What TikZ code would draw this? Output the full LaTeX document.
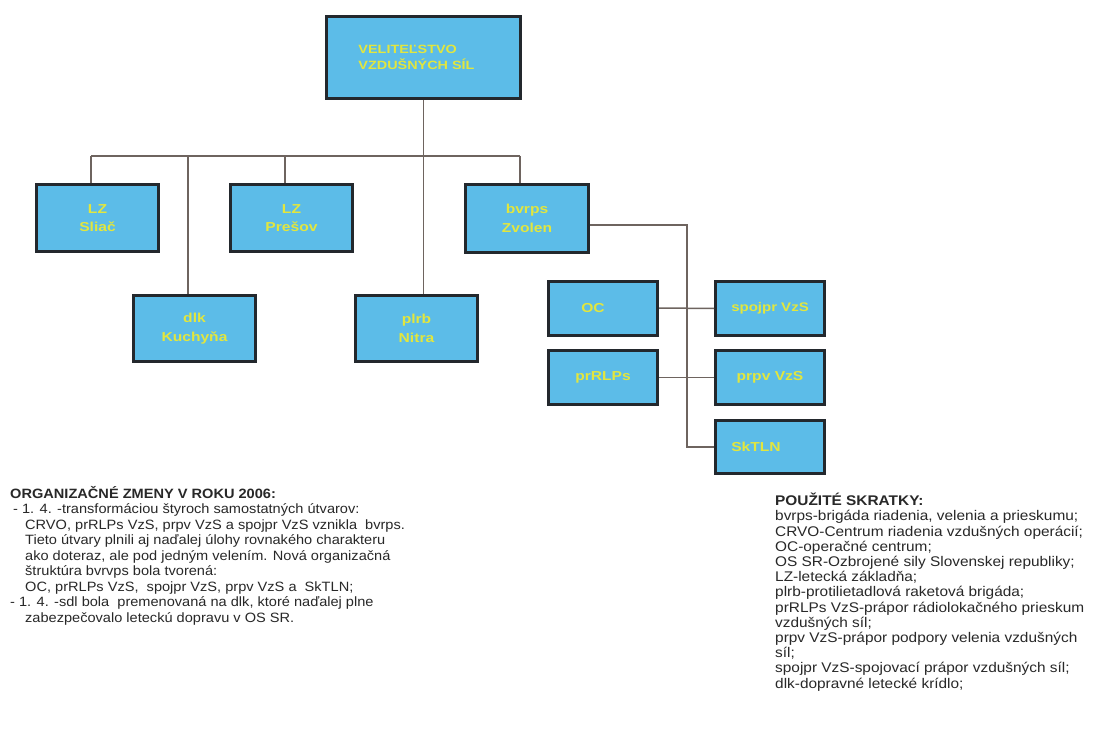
\documentclass[tikz,border=0pt]{standalone}
\usepackage{fontspec}
\setmainfont{Liberation Sans}
\newfontfamily\lftext[FakeStretch=1.08]{Liberation Sans}
\newfontfamily\rgtext[FakeStretch=1.1]{Liberation Sans}
\newfontfamily\bxfont[FakeStretch=1.2]{Liberation Sans}
\definecolor{boxfill}{RGB}{92,188,232}
\definecolor{boxedge}{RGB}{35,40,45}
\definecolor{boxtext}{RGB}{226,230,62}
\definecolor{wire}{RGB}{110,100,95}
\definecolor{bodytext}{RGB}{40,40,40}
\begin{document}
\begin{tikzpicture}[x=1pt,y=-1pt,
  orgbox/.style={draw=boxedge, line width=3pt, fill=boxfill, text=boxtext,
    font={\bxfont\bfseries\fontsize{13}{18.5}\selectfont}, align=center,
    inner sep=0pt, minimum width=122pt, minimum height=67pt},
  smallbox/.style={orgbox, minimum width=109pt, minimum height=54pt},
  conn/.style={draw=wire, line width=1.5pt},
  notes/.style={anchor=north west, inner sep=0pt, align=left, text=bodytext}]
\useasboundingbox (0,0) rectangle (1098,738);
\fill[white] (0,0) rectangle (1098,738);

% boxes
\node[orgbox, minimum width=194pt, minimum height=82pt, align=left,
  font={\bxfont\bfseries\fontsize{12}{16}\selectfont}] (vel) at (423.5,57.5)
  {VELITEĽSTVO\\VZDUŠNÝCH SÍL\hspace*{14pt}};
\node[orgbox] (sliac)  at (97.5,218)  {LZ\\Sliač};
\node[orgbox] (presov) at (291.5,218) {LZ\\Prešov};
\node[orgbox, minimum width=123pt, minimum height=68pt] (bvrps) at (527,218.5) {bvrps\\Zvolen};
\node[orgbox, minimum height=66pt] (dlk)  at (194.5,328.5) {dlk\\Kuchyňa};
\node[orgbox, minimum height=66pt] (plrb) at (416.5,328.5) {plrb\\Nitra};
\node[smallbox] (oc)     at (603,308)   {OC\hspace*{20pt}};
\node[smallbox, font={\bxfont\bfseries\fontsize{12.5}{18}\selectfont}] (spojpr) at (770,308.5) {spojpr VzS};
\node[smallbox] (prrlps) at (603,377.5) {prRLPs};
\node[smallbox] (prpv)   at (770,377.5) {prpv VzS};
\node[smallbox, minimum height=53pt] (sktln) at (770,447) {SkTLN\hspace*{28pt}};

% connectors
\coordinate (busL) at (91,156);
\coordinate (busR) at (520,156);
\draw[conn] (vel.south) -- (vel.south |- plrb.north);
\draw[conn] (busL) -- (busR);
\draw[conn] (busL) -- (busL |- sliac.north);
\draw[conn] ([xshift=-6.5pt]presov.north |- busL) -- ([xshift=-6.5pt]presov.north);
\draw[conn] (busR) -- (busR |- bvrps.north);
\draw[conn] ([xshift=-6.5pt]dlk.north |- busL) -- ([xshift=-6.5pt]dlk.north);
\coordinate (trunk) at (687,447);
\draw[conn] ([yshift=-6.5pt]bvrps.east) -| (trunk) -- (sktln.west);
\draw[conn] (oc.east) -- (spojpr.west);
\draw[conn] (prrlps.east) -- (prpv.west);

% notes
\node[notes, font={\lftext\fontsize{13.5}{15.5}\selectfont}] (changes) at (10,486) {%
\textbf{ORGANIZAČNÉ ZMENY V ROKU 2006:}\\
\hspace*{3pt}- 1. 4. -transformáciou štyroch samostatných útvarov:\\
\hspace*{15pt}CRVO, prRLPs VzS, prpv VzS a spojpr VzS vznikla\ \ bvrps.\\
\hspace*{15pt}Tieto útvary plnili aj naďalej úlohy rovnakého charakteru\\
\hspace*{15pt}ako doteraz, ale pod jedným velením. Nová organizačná\\
\hspace*{15pt}štruktúra bvrvps bola tvorená:\\
\hspace*{15pt}OC, prRLPs VzS,\ \ spojpr VzS, prpv VzS a\ \ SkTLN;\\
- 1. 4. -sdl bola\ \ premenovaná na dlk, ktoré naďalej plne\\
\hspace*{15pt}zabezpečovalo leteckú dopravu v OS SR.};

\node[notes, font={\rgtext\fontsize{14}{15.2}\selectfont}] (abbrev) at (775,493) {%
\textbf{POUŽITÉ SKRATKY:}\\
bvrps-brigáda riadenia, velenia a prieskumu;\\
CRVO-Centrum riadenia vzdušných operácií;\\
OC-operačné centrum;\\
OS SR-Ozbrojené sily Slovenskej republiky;\\
LZ-letecká základňa;\\
plrb-protilietadlová raketová brigáda;\\
prRLPs VzS-prápor rádiolokačného prieskum\\
vzdušných síl;\\
prpv VzS-prápor podpory velenia vzdušných\\
síl;\\
spojpr VzS-spojovací prápor vzdušných síl;\\
dlk-dopravné letecké krídlo;};
\end{tikzpicture}
\end{document}
